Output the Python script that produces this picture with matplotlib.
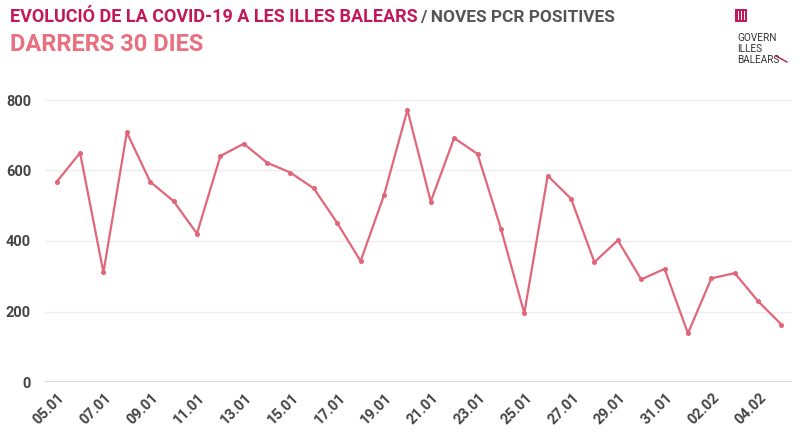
import matplotlib
matplotlib.use("Agg")
import matplotlib.pyplot as plt
from matplotlib.patches import Rectangle

dates = ["05.01","06.01","07.01","08.01","09.01","10.01","11.01","12.01","13.01","14.01",
         "15.01","16.01","17.01","18.01","19.01","20.01","21.01","22.01","23.01","24.01",
         "25.01","26.01","27.01","28.01","29.01","30.01","31.01","01.02","02.02","03.02",
         "04.02","05.02"]
values = [568, 650, 311, 708, 568, 513, 421, 641, 676, 622,
          594, 549, 451, 343, 530, 772, 512, 692, 647, 435,
          195, 585, 520, 340, 402, 291, 321, 138, 294, 309,
          229, 163]
yticks = [0, 200, 400, 600, 800]

plt.rcParams['font.family'] = ['Roboto', 'DejaVu Sans']

W, H = 800, 440
fig = plt.figure(figsize=(8, 4.4), dpi=100)
fig.patch.set_facecolor("white")

ax = fig.add_axes([45/W, 1-382/H, (792-45)/W, (382-100)/H])
x = list(range(len(values)))
ax.plot(x, values, color="#E2667A", lw=1.6, marker="o", ms=2.6, clip_on=False, zorder=3)
ax.set_xlim(-0.5, len(values)-0.55)
ax.set_ylim(0, 800)
ax.set_yticks(yticks)
ax.set_yticklabels([str(v) for v in yticks], fontsize=10.5, fontweight="bold", color="#444444")
for v in yticks[1:]:
    ax.axhline(v, color="#EEEEEE", lw=1, zorder=1)
ax.axhline(0, color="#D9D9D9", lw=1.5, zorder=2)
for s in ax.spines.values():
    s.set_visible(False)
ax.tick_params(axis="y", length=0, pad=10)
ax.tick_params(axis="x", length=0, pad=6)
ax.set_xticks(x[::2])
ax.set_xticklabels(dates[::2], rotation=45, ha="right", va="center", rotation_mode="anchor",
                   fontsize=10.5, fontweight="bold", color="#444444")
for lab in ax.get_xticklabels():
    lab.set_transform(lab.get_transform() + matplotlib.transforms.ScaledTranslation(6/100, -5/100, fig.dpi_scale_trans))

# Titles
fig.canvas.draw()
r = fig.canvas.get_renderer()

def fit_text(xp, yp, s, target_w, size, **kw):
    t = fig.text(xp/W, 1-yp/H, s, fontsize=size, va="baseline", ha="left", **kw)
    w = t.get_window_extent(r).width
    t.set_fontsize(size*target_w/w)
    return t

fit_text(10, 22, "EVOLUCIÓ DE LA COVID-19 A LES ILLES BALEARS", 407, 12,
         fontweight="bold", color="#C2185B")
fit_text(420, 22, "/ NOVES PCR POSITIVES", 195, 12, fontweight="bold", color="#555555")
fit_text(10, 51, "DARRERS 30 DIES", 193, 16, fontweight="bold", color="#E8707F")

# Logo
fig.patches.append(Rectangle((735/W, 1-22/H), 12/W, 13/H, transform=fig.transFigure,
                             color="#C2185B", lw=0))
for xx in [737.5, 740.5, 743.5]:
    fig.patches.append(Rectangle((xx/W, 1-20/H), 1/W, 9/H, transform=fig.transFigure,
                                 color="white", lw=0))
for yy, s in [(41, "GOVERN"), (52, "ILLES"), (63, "BALEARS")]:
    fig.text(737/W, 1-yy/H, s, fontsize=7.2, color="#333333", va="baseline", ha="left")
fig.lines.append(matplotlib.lines.Line2D([776/W, 787/W], [1-56/H, 1-62/H], transform=fig.transFigure,
                                         color="#C2185B", lw=1))

fig.savefig("out.png", dpi=100, facecolor="white")
